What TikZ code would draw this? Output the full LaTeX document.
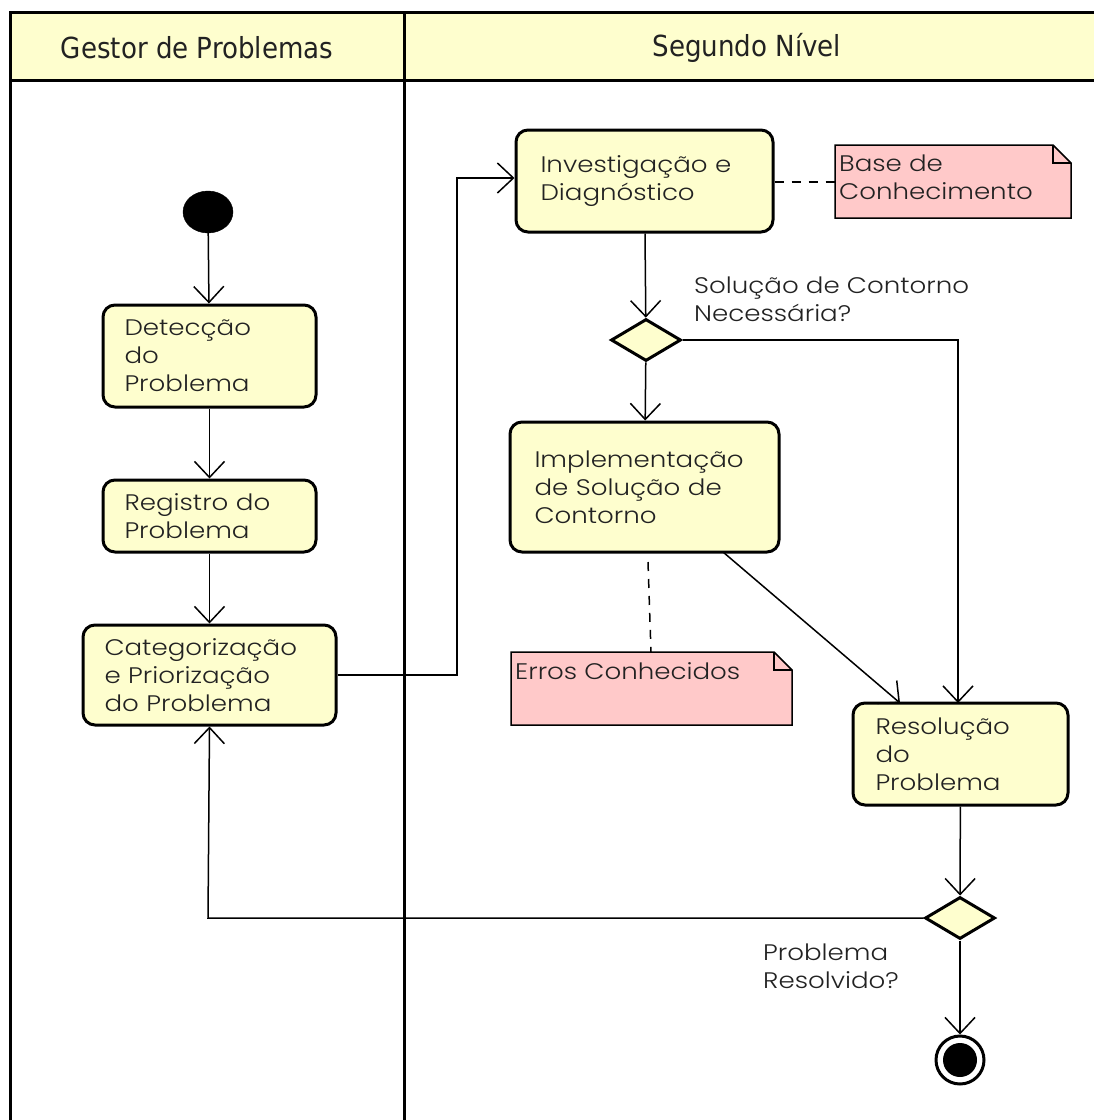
\documentclass[tikz,border=0pt]{standalone}
\usepackage{fontspec}
\setmainfont[FakeStretch=1.16]{Poppins Light}
\newfontfamily\headfont{DejaVu Sans Condensed}
\usetikzlibrary{arrows.meta,shapes.geometric}
\definecolor{actfill}{HTML}{FEFECE}
\definecolor{notefill}{HTML}{FFC9C9}
\definecolor{txt}{HTML}{222222}
\tikzset{
  act/.style={draw=black, line width=3pt, fill=actfill, rounded corners=12pt, align=left,
    font=\fontsize{22.5}{28}\selectfont, text=txt, inner xsep=0pt, inner ysep=0pt},
  flow/.style={line width=1.5pt, -{Straight Barb[length=16pt,width=30pt,line width=1.5pt]}},
  plain/.style={line width=1.5pt},
  anchorline/.style={line width=1.5pt, dash pattern=on 9pt off 8pt},
  dec/.style={draw=black, line width=3pt, fill=actfill, diamond, minimum width=70pt, minimum height=42pt, inner sep=0pt, aspect=1.7},
  lbl/.style={font=\fontsize{22.5}{28}\selectfont, text=txt, align=left, inner sep=0pt, anchor=north west},
  lanehead/.style={font=\headfont\fontsize{29}{32}\selectfont, text=txt}
}
\newcommand{\notebox}[6]{% name, x1,y1,x2,y2, text
  \fill[notefill] (#2,#3) -- (#4-18,#3) -- (#4,#3+18) -- (#4,#5) -- (#2,#5) -- cycle;
  \draw[line width=1.5pt] (#2,#3) -- (#4-18,#3) -- (#4,#3+18) -- (#4,#5) -- (#2,#5) -- cycle;
  \draw[line width=1.5pt] (#4-18,#3) -- (#4-18,#3+18) -- (#4,#3+18);
  \node[lbl, anchor=north west] at (#2+4,#3+10) {#6};
  \coordinate (#1) at ({(#2+#4)/2},{(#3+#5)/2});
}
\begin{document}
\begin{tikzpicture}[x=1pt,y=-1pt]
\useasboundingbox (0,0) rectangle (1094,1120);
\fill[white] (0,0) rectangle (1094,1120);
% swimlanes
\fill[actfill] (10,12) rectangle (1100,80);
\draw[line width=3pt] (1100,12) -- (10,12) -- (10,1125);
\draw[line width=3pt] (10,80) -- (1100,80);
\draw[line width=3pt] (404,12) -- (404,1125);
\node[lanehead] (lane1) at (197,48) {Gestor de Problemas};
\node[lanehead] (lane2) at (747,48) {Segundo Nível};

% initial
\node[draw=black, fill=black, ellipse, minimum width=50pt, minimum height=42pt, inner sep=0pt] (start) at (208,212) {};

% activities
\node[act, minimum width=213pt, minimum height=102pt, text width=170pt] (detec) at (209.5,356) {Detecção\\do\\Problema};
\node[act, minimum width=213pt, minimum height=72pt, text width=170pt] (reg) at (209.5,516) {Registro do\\Problema};
\node[act, minimum width=253pt, minimum height=100pt, text width=210pt] (cat) at (209.5,675) {Categorização\\e Priorização\\do Problema};
\node[act, minimum width=257pt, minimum height=102pt, text width=208pt] (inv) at (644.5,181) {Investigação e\\Diagnóstico};
\node[dec] (d1) at (646,340) {};
\node[act, minimum width=269pt, minimum height=130pt, text width=220pt] (impl) at (644.5,487) {Implementação\\de Solução de\\Contorno};
\node[act, minimum width=215pt, minimum height=102pt, text width=170pt] (res) at (960.5,754) {Resolução\\do\\Problema};
\node[dec] (d2) at (960,918) {};

% final
\node[draw=black, line width=3pt, fill=white, circle, minimum size=48pt, inner sep=0pt] (end) at (960,1060) {};
\fill[black] (end.center) circle (17pt);

% notes
\notebox{kb}{835}{145}{1071}{218}{Base de\\Conhecimento}
\notebox{ke}{511}{652}{792}{725}{Erros Conhecidos}

% guard labels
\node[lbl] (g1) at (694,277) {Solução de Contorno\\Necessária?};
\node[lbl] (g2) at (763,944) {Problema\\Resolvido?};

% flows
\draw[flow] (start) -- (detec);
\draw[flow] (detec) -- (reg);
\draw[flow] (reg) -- (cat);
\draw[flow] (cat.east) -- (457,675) -- (457,178) -- (inv.west |- 0,178);
\draw[flow] (inv) -- (d1);
\draw[flow] (d1) -- (impl);
\draw[flow] (d1.east) -- (958,340) -- (958,703);
\draw[flow] (723,552) -- (900,703);
\draw[flow] (res) -- (d2);
\draw[flow] (d2.west) -- (208,918) -- (cat.south);
\draw[flow] (d2) -- (end);
\draw[anchorline] (inv.east |- 0,182) -- (835,182);
\draw[anchorline] (648,562) -- (651,652);
\end{tikzpicture}
\end{document}
